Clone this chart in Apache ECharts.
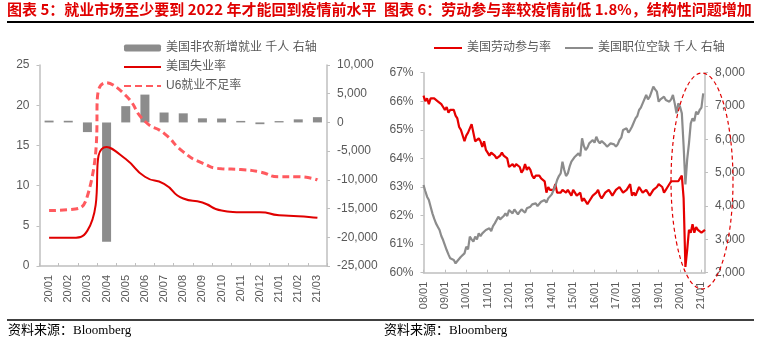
<!DOCTYPE html>
<html>
<head>
<meta charset="utf-8">
<script src="https://cdn.jsdelivr.net/npm/echarts@6/dist/echarts.min.js"></script>
<style>
html,body{margin:0;padding:0;background:#fff;}
#chart{width:768px;height:348px;}
</style>
</head>
<body>
<div id="chart"></div>
<script>
// ---------- Left chart (图表5) ----------
const leftCategories = ['20/01','20/02','20/03','20/04','20/05','20/06','20/07','20/08','20/09','20/10','20/11','20/12','21/01','21/02','21/03'];
const payrolls = [315, 289, -1683, -20787, 2833, 4846, 1726, 1583, 716, 680, 264, -306, 233, 536, 916];
const unemploymentRate = [3.5, 3.5, 4.4, 14.8, 13.3, 11.1, 10.2, 8.4, 7.9, 6.9, 6.7, 6.7, 6.3, 6.2, 6.0];
const u6Rate = [6.9, 7.0, 8.7, 22.8, 21.2, 18.0, 16.5, 14.2, 12.8, 12.1, 12.0, 11.7, 11.1, 11.1, 10.7];

// ---------- Right chart (图表6) ----------
const rightYears = ['08','09','10','11','12','13','14','15','16','17','18','19','20','21'];
const rightMonthsPerYear = [12,12,12,12,12,12,12,12,12,12,12,12,12,3];
const lfpr = [
  66.2, 66.0, 66.1, 65.9, 66.1, 66.1, 66.1, 66.1, 66.0, 66.0, 65.9, 65.8,
  65.7, 65.8, 65.6, 65.7, 65.7, 65.7, 65.5, 65.4, 65.1, 65.0, 65.0, 64.6,
  64.8, 64.9, 64.9, 65.2, 64.9, 64.6, 64.6, 64.7, 64.6, 64.4, 64.6, 64.3,
  64.2, 64.1, 64.2, 64.2, 64.1, 64.0, 64.0, 64.1, 64.2, 64.1, 64.1, 64.0,
  63.7, 63.7, 63.8, 63.7, 63.8, 63.8, 63.7, 63.5, 63.6, 63.8, 63.6, 63.7,
  63.6, 63.4, 63.3, 63.4, 63.4, 63.4, 63.3, 63.3, 63.2, 62.8, 63.0, 62.9,
  62.9, 62.9, 63.1, 62.8, 62.8, 62.8, 62.9, 62.9, 62.8, 62.9, 62.9, 62.7,
  62.9, 62.8, 62.7, 62.7, 62.8, 62.5, 62.6, 62.6, 62.4, 62.5, 62.5, 62.7,
  62.7, 62.8, 62.9, 62.7, 62.6, 62.7, 62.8, 62.8, 62.9, 62.8, 62.7, 62.7,
  62.9, 62.9, 63.0, 62.9, 62.8, 62.8, 62.9, 62.9, 63.1, 62.7, 62.8, 62.7,
  62.7, 63.0, 62.9, 62.8, 62.8, 62.9, 62.9, 62.7, 62.7, 62.9, 62.9, 63.0,
  63.1, 63.1, 63.0, 62.8, 62.9, 63.0, 63.0, 63.2, 63.2, 63.2, 63.2, 63.2,
  63.3, 63.4, 62.6, 60.2, 60.8, 61.5, 61.4, 61.7, 61.4, 61.6, 61.5, 61.5,
  61.4, 61.4, 61.5
];
const jobOpenings = [
  4630, 4450, 4280, 4180, 3980, 3780, 3620, 3480, 3380, 3280, 3100, 2980,
  2830, 2680, 2550, 2430, 2400, 2380, 2280, 2350, 2300, 2480, 2520, 2580,
  2780, 2700, 3080, 3000, 2930, 3080, 3000, 3180, 3100, 3180, 3120, 3280,
  3280, 3330, 3250, 3400, 3480, 3450, 3680, 3600, 3580, 3700, 3780, 3700,
  3880, 3820, 3780, 3900, 3880, 3750, 3830, 3900, 3880, 3800, 3930, 3980,
  3980, 4050, 4030, 4080, 4000, 3980, 4130, 4100, 4180, 4100, 4230, 4200,
  4350, 4480, 4600, 4780, 4900, 4980, 5330, 5080, 4900, 4980, 5180, 5330,
  5380, 5480, 5430, 5580, 5500, 6030, 5800, 5680, 5750, 5880, 5850, 5980,
  5900, 6080, 5950, 5880, 5950, 5980, 5850, 5780, 5830, 5880, 5930, 5850,
  5780, 5850, 5980, 6050, 6280, 6250, 6330, 6200, 6280, 6380, 6350, 6630,
  6700, 6880, 6950, 7080, 7050, 7330, 7200, 7280, 7250, 7580, 7500, 7430,
  7130, 7200, 7250, 7280, 7180, 7150, 7130, 7200, 7330, 7080, 6780, 7080,
  6980, 6780, 5800, 4650, 5400, 5880, 6480, 6630, 6550, 6830, 6750, 6880,
  6950, 7380, null
];

const rightCategories = [];
rightYears.forEach(function (y, i) {
  for (let m = 1; m <= rightMonthsPerYear[i]; m++) {
    rightCategories.push(y + '/' + (m < 10 ? '0' + m : '' + m));
  }
});

const AXIS_COLOR = '#BFBFBF';
const LABEL_COLOR = '#595959';
const FONT = '"Liberation Sans", Arial, "Noto Sans CJK SC", sans-serif';

function thousands(v) {
  return Number(v).toLocaleString('en-US');
}

const chart = echarts.init(document.getElementById('chart'), null, {renderer: 'canvas'});

const axisLineStyle = {show: true, lineStyle: {color: AXIS_COLOR, width: 1.5}};
const noSymbol = {opacity: 0};

const option = {
  animation: false,
  backgroundColor: '#ffffff',
  textStyle: {fontFamily: FONT},
  grid: [
    {left: 39.5, top: 65, width: 287.5, height: 201},
    {left: 423.5, top: 72.7, width: 281.5, height: 200}
  ],
  legend: [
    {
      orient: 'vertical', left: 123, top: 42, padding: 0,
      itemWidth: 37, itemHeight: 7, itemGap: 7,
      textStyle: {color: LABEL_COLOR, fontSize: 12, fontFamily: FONT},
      data: [
        {name: '美国非农新增就业 千人 右轴'},
        {name: '美国失业率', itemStyle: noSymbol},
        {name: 'U6就业不足率', itemStyle: noSymbol}
      ]
    },
    {
      orient: 'horizontal', left: 433, top: 42, padding: 0,
      itemWidth: 28, itemHeight: 7, itemGap: 13,
      textStyle: {color: LABEL_COLOR, fontSize: 12, fontFamily: FONT},
      data: [
        {name: '美国劳动参与率', itemStyle: noSymbol},
        {name: '美国职位空缺 千人 右轴', itemStyle: noSymbol}
      ]
    }
  ],
  xAxis: [
    {
      type: 'category', gridIndex: 0, data: leftCategories, boundaryGap: true,
      axisLine: axisLineStyle,
      axisTick: {show: true, inside: true, length: 3, lineStyle: {color: AXIS_COLOR}},
      axisLabel: {rotate: 90, margin: 9, color: LABEL_COLOR, fontSize: 11, interval: 0}
    },
    {
      type: 'category', gridIndex: 1, data: rightCategories, boundaryGap: false,
      axisLine: axisLineStyle,
      axisTick: {show: true, inside: true, length: 3, interval: 11, lineStyle: {color: AXIS_COLOR}},
      axisLabel: {rotate: 90, margin: 9, color: LABEL_COLOR, fontSize: 11, interval: 11}
    }
  ],
  yAxis: [
    {
      type: 'value', gridIndex: 0, min: 0, max: 25, interval: 5, position: 'left',
      axisLine: axisLineStyle,
      axisTick: {show: true, length: 3, lineStyle: {color: AXIS_COLOR}},
      splitLine: {show: false},
      axisLabel: {color: LABEL_COLOR, fontSize: 12, margin: 10}
    },
    {
      type: 'value', gridIndex: 0, min: -25000, max: 10000, interval: 5000, position: 'right',
      axisLine: axisLineStyle,
      axisTick: {show: true, length: 3, lineStyle: {color: AXIS_COLOR}},
      splitLine: {show: false},
      axisLabel: {color: LABEL_COLOR, fontSize: 12, margin: 10, formatter: thousands}
    },
    {
      type: 'value', gridIndex: 1, min: 60, max: 67, interval: 1, position: 'left',
      axisLine: axisLineStyle,
      axisTick: {show: true, length: 3, lineStyle: {color: AXIS_COLOR}},
      splitLine: {show: false},
      axisLabel: {color: LABEL_COLOR, fontSize: 12, margin: 10, formatter: '{value}%'}
    },
    {
      type: 'value', gridIndex: 1, min: 2000, max: 8000, interval: 1000, position: 'right',
      axisLine: axisLineStyle,
      axisTick: {show: true, length: 3, lineStyle: {color: AXIS_COLOR}},
      splitLine: {show: false},
      axisLabel: {color: LABEL_COLOR, fontSize: 12, margin: 10, formatter: thousands}
    }
  ],
  series: [
    {
      name: '美国非农新增就业 千人 右轴', type: 'bar', xAxisIndex: 0, yAxisIndex: 1,
      data: payrolls, barWidth: 9, itemStyle: {color: '#8C8C8C'}
    },
    {
      name: '美国失业率', type: 'line', xAxisIndex: 0, yAxisIndex: 0,
      data: unemploymentRate, smooth: 0.6, symbol: 'none',
      lineStyle: {color: '#E00000', width: 2}, itemStyle: {color: '#E00000'}
    },
    {
      name: 'U6就业不足率', type: 'line', xAxisIndex: 0, yAxisIndex: 0,
      data: u6Rate, smooth: 0.6, symbol: 'none',
      lineStyle: {color: '#FF5A5F', width: 3, type: [7, 4]}, itemStyle: {color: '#FF5A5F'}
    },
    {
      name: '美国劳动参与率', type: 'line', xAxisIndex: 1, yAxisIndex: 2,
      data: lfpr, symbol: 'none',
      lineStyle: {color: '#E60000', width: 2.2}, itemStyle: {color: '#E60000'}
    },
    {
      name: '美国职位空缺 千人 右轴', type: 'line', xAxisIndex: 1, yAxisIndex: 3,
      data: jobOpenings, symbol: 'none', connectNulls: false,
      lineStyle: {color: '#8C8C8C', width: 2.2}, itemStyle: {color: '#8C8C8C'}
    }
  ],
  graphic: [
    {type: 'text', left: 7, top: 2, style: {text: '图表 5：就业市场至少要到 2022 年才能回到疫情前水平', fill: '#E00000', font: 'bold 15px "Noto Sans CJK SC", sans-serif'}},
    {type: 'text', left: 384, top: 2, style: {text: '图表 6：劳动参与率较疫情前低 1.8%，结构性问题增加', fill: '#E00000', font: 'bold 15px "Noto Sans CJK SC", sans-serif'}},
    {type: 'line', shape: {x1: 7, y1: 22, x2: 754, y2: 22}, style: {stroke: '#000', lineWidth: 2}},
    {type: 'line', shape: {x1: 7, y1: 320, x2: 754, y2: 320}, style: {stroke: '#000', lineWidth: 1.5}},
    {type: 'text', left: 8, top: 324, style: {text: '资料来源：Bloomberg', fill: '#000', font: '13px "Liberation Serif", "Noto Sans CJK SC", serif'}},
    {type: 'text', left: 384, top: 324, style: {text: '资料来源：Bloomberg', fill: '#000', font: '13px "Liberation Serif", "Noto Sans CJK SC", serif'}},
    {type: 'ellipse', shape: {cx: 702, cy: 181, rx: 31, ry: 108}, style: {fill: 'none', stroke: '#E00000', lineWidth: 1.2, lineDash: [4, 3]}, z: 100}
  ]
};

chart.setOption(option);
</script>
</body>
</html>
